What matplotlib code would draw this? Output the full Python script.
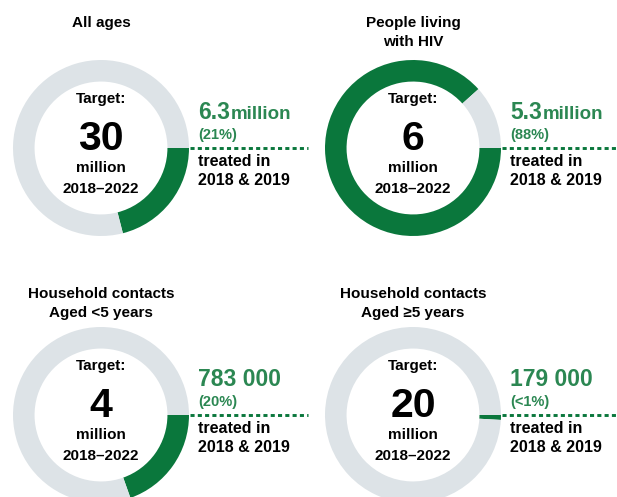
import matplotlib
matplotlib.use("Agg")
import matplotlib.pyplot as plt

# ---------------- data ----------------
titles = [["All ages"], ["People living", "with HIV"],
          ["Household contacts", "Aged <5 years"], ["Household contacts", "Aged \u22655 years"]]
target_millions = [30, 6, 4, 20]
treated_millions = [6.3, 5.3, 0.783, 0.179]
treated_numbers = ["6.3", "5.3", "783 000", "179 000"]
treated_units = ["million", "million", "", ""]
pct_labels = ["(21%)", "(88%)", "(20%)", "(<1%)"]

# ---------------- style ----------------
W, H = 617, 497
DPI = 100
GREEN = "#0a773c"
TXT_GREEN = "#2b8752"
GREY = "#dde3e7"
FONT = ["Liberation Sans", "DejaVu Sans"]
plt.rcParams["font.family"] = FONT

fig = plt.figure(figsize=(W / DPI, H / DPI), dpi=DPI)
fig.patch.set_facecolor("white")

centers = [(101, 148), (413, 148), (101, 415), (413, 415)]
R = 88
title_base = [27, 27, 298, 298]
line_end = [308, 617]

# donuts
for (cx, cy), tgt, val in zip(centers, target_millions, treated_millions):
    ax = fig.add_axes([(cx - R) / W, (H - cy - R) / H, 2 * R / W, 2 * R / H])
    ax.pie([val, tgt - val], colors=[GREEN, GREY], startangle=0, counterclock=False,
           radius=1, wedgeprops=dict(width=0.245, linewidth=0))
    ax.set_xlim(-1, 1)
    ax.set_ylim(-1, 1)
    ax.set_aspect("equal")
    ax.axis("off")

# overlay for text
ov = fig.add_axes([0, 0, 1, 1])
ov.set_xlim(0, W)
ov.set_ylim(H, 0)
ov.axis("off")
ov.patch.set_alpha(0)

renderer = fig.canvas.get_renderer()

for i, ((cx, cy), ttl, tgt) in enumerate(zip(centers, titles, target_millions)):
    # title
    for k, line in enumerate(ttl):
        ov.text(cx, title_base[i] + 19 * k, line, ha="center", va="baseline",
                fontsize=11, fontweight="bold", color="black")
    # inside donut
    ov.text(cx, cy - 45, "Target:", ha="center", va="baseline", fontsize=11,
            fontweight="bold")
    ov.text(cx, cy + 2, f"{tgt}", ha="center", va="baseline", fontsize=29.5,
            fontweight="bold")
    ov.text(cx, cy + 24, "million", ha="center", va="baseline", fontsize=11,
            fontweight="bold")
    ov.text(cx, cy + 45, "2018\u20132022", ha="center", va="baseline", fontsize=11,
            fontweight="bold")
    # right-side labels
    xl = cx + 97
    t1 = ov.text(xl, cy - 29, treated_numbers[i], ha="left", va="baseline",
                 fontsize=16.5, fontweight="bold", color=TXT_GREEN)
    if treated_units[i]:
        bb = t1.get_window_extent(renderer)
        x1 = ov.transData.inverted().transform((bb.x1, bb.y0))[0]
        ov.text(x1 + 1, cy - 29, treated_units[i], ha="left", va="baseline",
                fontsize=13.5, fontweight="bold", color=TXT_GREEN)
    ov.text(xl, cy - 9, pct_labels[i], ha="left", va="baseline", fontsize=10.5,
            fontweight="bold", color=TXT_GREEN)
    ov.text(xl, cy + 18, "treated in", ha="left", va="baseline", fontsize=11.5,
            fontweight="bold")
    ov.text(xl, cy + 37, "2018 & 2019", ha="left", va="baseline", fontsize=11.5,
            fontweight="bold")
    # dotted leader
    ov.plot([cx + R + 1, line_end[i % 2]], [cy, cy], color=GREEN, lw=2.1,
            linestyle=(0, (1.4, 1.1)), solid_capstyle="butt", dash_capstyle="butt")

fig.savefig("out.png", dpi=DPI, facecolor="white")
